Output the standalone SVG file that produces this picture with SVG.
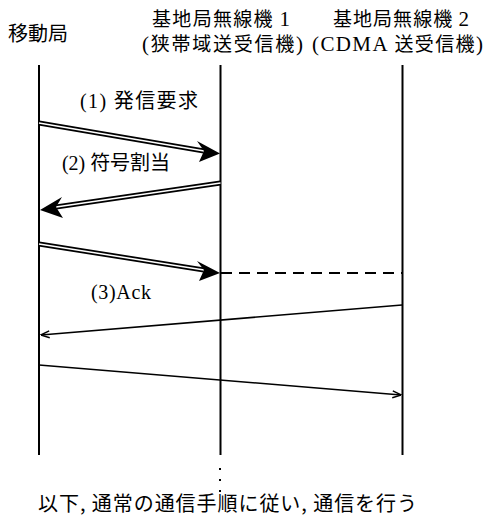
<svg xmlns="http://www.w3.org/2000/svg" width="485" height="522" viewBox="0 0 485 522">
<style>
.t{font-family:"Noto Sans CJK JP","Noto Sans",sans-serif;font-size:20px;fill:#000}
.h{font-size:19px}
.s{font-family:"Liberation Serif",serif}
.hs{font-size:21px}
.life{stroke:#000;stroke-width:2;fill:none}
.dbl{stroke:#000;stroke-width:5;fill:none}
.dblw{stroke:#fff;stroke-width:1.5;fill:none}
.thin{stroke:#000;stroke-width:1.6;fill:none}
.head{fill:#000;stroke:none}
</style>
<defs>
<marker id="open" viewBox="0 0 10 10" refX="9.5" refY="5" markerWidth="10" markerHeight="10" markerUnits="userSpaceOnUse" orient="auto">
<path d="M1,1.5 L10,5 L1,8.5" fill="none" stroke="#000" stroke-width="1.4"/>
</marker>
</defs>
<g id="lane-mobile">
<text class="t" x="8" y="41" textLength="60" lengthAdjust="spacing">移動局</text>
<line class="life" x1="39" y1="65" x2="39" y2="455"/>
</g>
<g id="lane-bs1">
<text class="t h" x="152" y="26" textLength="138" lengthAdjust="spacing">基地局無線機 <tspan class="s hs">1</tspan></text>
<text class="t h" x="142" y="51" textLength="161" lengthAdjust="spacing"><tspan class="s hs">(</tspan>狭帯域送受信機<tspan class="s hs">)</tspan></text>
<line class="life" x1="220.5" y1="65" x2="220.5" y2="455"/>
</g>
<g id="lane-bs2">
<text class="t h" x="333" y="26" textLength="136" lengthAdjust="spacing">基地局無線機 <tspan class="s hs">2</tspan></text>
<text class="t h" x="312" y="51" textLength="171" lengthAdjust="spacing"><tspan class="s hs">(CDMA </tspan>送受信機<tspan class="s hs">)</tspan></text>
<line class="life" x1="402.5" y1="65" x2="402.5" y2="455"/>
</g>
<g id="connectors">
<path class="dbl" d="M39,123 L204,151"/>
<path class="dblw" d="M39,123 L204,151"/>
<path class="head" d="M220,153.5 L197,141 L204,151 L199,162 Z"/>
<path class="dbl" d="M220.5,183 L56,207"/>
<path class="dblw" d="M220.5,183 L56,207"/>
<path class="head" d="M40,210 L62,197 L56,207 L63,218 Z"/>
<path class="dbl" d="M39,244 L204,270"/>
<path class="dblw" d="M39,244 L204,270"/>
<path class="head" d="M220,273 L197,261 L204,270 L199,281 Z"/>
<line x1="221" y1="273" x2="402" y2="273" stroke="#000" stroke-width="2" stroke-dasharray="11,7"/>
<line class="thin" x1="402" y1="305" x2="41" y2="335" marker-end="url(#open)"/>
<line class="thin" x1="39" y1="365" x2="401" y2="395" marker-end="url(#open)"/>
</g>
<g id="labels">
<text class="t" x="80" y="108" textLength="118" lengthAdjust="spacing"><tspan class="s">(1) </tspan>発信要求</text>
<text class="t" x="62" y="170" textLength="108" lengthAdjust="spacing"><tspan class="s">(2) </tspan>符号割当</text>
<text class="t s" x="91" y="299" textLength="60" lengthAdjust="spacing">(3)Ack</text>
</g>
<g id="continuation">
<rect x="219" y="468" width="2" height="2"/>
<rect x="219" y="479" width="2" height="2"/>
<rect x="219" y="490" width="2" height="2"/>
<text class="t" x="38" y="511" textLength="379" lengthAdjust="spacing">以下, 通常の通信手順に従い, 通信を行う</text>
</g>
</svg>
